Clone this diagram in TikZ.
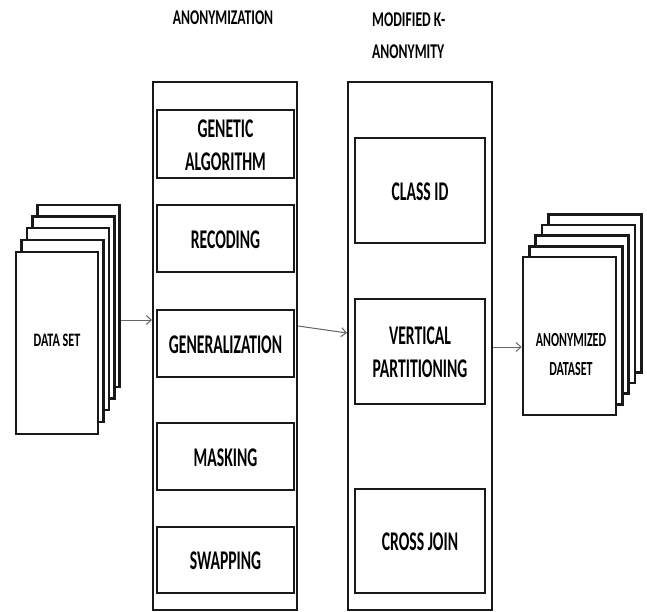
\documentclass[tikz,border=0pt]{standalone}
\usepackage{graphicx}
\usepackage{fontspec}
\setmainfont{Carlito}[BoldFont={Carlito Bold}]
\usetikzlibrary{arrows.meta}
% #1 font size, #2 baselineskip, #3 horizontal squeeze, #4 text
\newcommand{\nt}[4]{{\fontsize{#1}{#2}\selectfont\bfseries\scalebox{#3}[1]{\begin{tabular}{@{}c@{}}#4\end{tabular}}}}
\newcommand{\bt}[1]{\raisebox{-3pt}[\height][\depth]{\nt{27}{33}{0.58}{#1}}}
\begin{document}
\begin{tikzpicture}[x=1pt,y=-1pt,
  outer/.style={draw=black!90,line width=2pt,fill=white,inner sep=0pt},
  inner/.style={draw=black!90,line width=2.6pt,fill=white,inner sep=0pt},
  page/.style={draw=black!90,line width=2.6pt,fill=white,inner sep=0pt},
  arr/.style={draw=black!60,line width=1pt,-{Straight Barb[length=5pt,width=9pt]}},
  ttl/.style={inner sep=0pt}]
\useasboundingbox (0,0) rectangle (647,612);
% titles
\node[ttl] (t1) at (223,20) {\nt{21}{21}{0.65}{ANONYMIZATION}};
\node[ttl,anchor=west] (t2) at (372,36) {{\fontsize{21}{32}\selectfont\bfseries\scalebox{0.65}[1]{\begin{tabular}{@{}l@{}}MODIFIED K-\\ANONYMITY\end{tabular}}}};
% data set stack
\foreach \i/\x/\y in {4/78.5/296,3/73.5/307.5,2/68/319,1/62.5/331}
  \node[page,minimum width=82pt,minimum height=182pt] (ds\i) at (\x,\y) {};
\node[page,minimum width=82pt,minimum height=182pt] (ds0) at (57,343) {\nt{19}{19}{0.64}{DATA SET}};
% anonymization column
\node[outer,minimum width=144pt,minimum height=528pt] (anon) at (225,346) {};
\node[inner,minimum width=137pt,minimum height=68pt] (gen) at (225.5,144) {\bt{GENETIC\\ALGORITHM}};
\node[inner,minimum width=137pt,minimum height=67pt] (rec) at (225.5,238.5) {\bt{RECODING}};
\node[inner,minimum width=137pt,minimum height=67pt] (genz) at (225.5,343.5) {\bt{GENERALIZATION}};
\node[inner,minimum width=137pt,minimum height=67pt] (mask) at (225.5,456.5) {\bt{MASKING}};
\node[inner,minimum width=137pt,minimum height=66pt] (swap) at (225.5,560) {\bt{SWAPPING}};
% modified k-anonymity column
\node[outer,minimum width=144pt,minimum height=528pt] (mod) at (420,346) {};
\node[inner,minimum width=130pt,minimum height=105pt] (cls) at (420,190.5) {\bt{CLASS ID}};
\node[inner,minimum width=130pt,minimum height=105pt] (vp) at (420,351.5) {\bt{VERTICAL\\PARTITIONING}};
\node[inner,minimum width=130pt,minimum height=104pt] (cj) at (420,541) {\bt{CROSS JOIN}};
% anonymized dataset stack
\foreach \i/\x/\y in {4/595/293.5,3/588.6/304.1,2/582.2/314.7,1/575.8/325.3}
  \node[page,minimum width=93pt,minimum height=158pt] (ad\i) at (\x,\y) {};
\node[page,minimum width=93pt,minimum height=158pt] (ad0) at (569.5,336) {};
\node[ttl] (adl) at (571,355) {\nt{20}{29}{0.6}{ANONYMIZED\\DATASET}};
% connectors
\coordinate (c1) at (0,320);
\coordinate (c2a) at (0,326);
\coordinate (c2b) at (0,333);
\coordinate (c3) at (0,347);
\draw[arr] (ds4.east |- c1) -- (anon.west |- c1);
\draw[arr] (anon.east |- c2a) -- (mod.west |- c2b);
\draw[arr] (mod.east |- c3) -- (ad0.west |- c3);
\end{tikzpicture}
\end{document}
